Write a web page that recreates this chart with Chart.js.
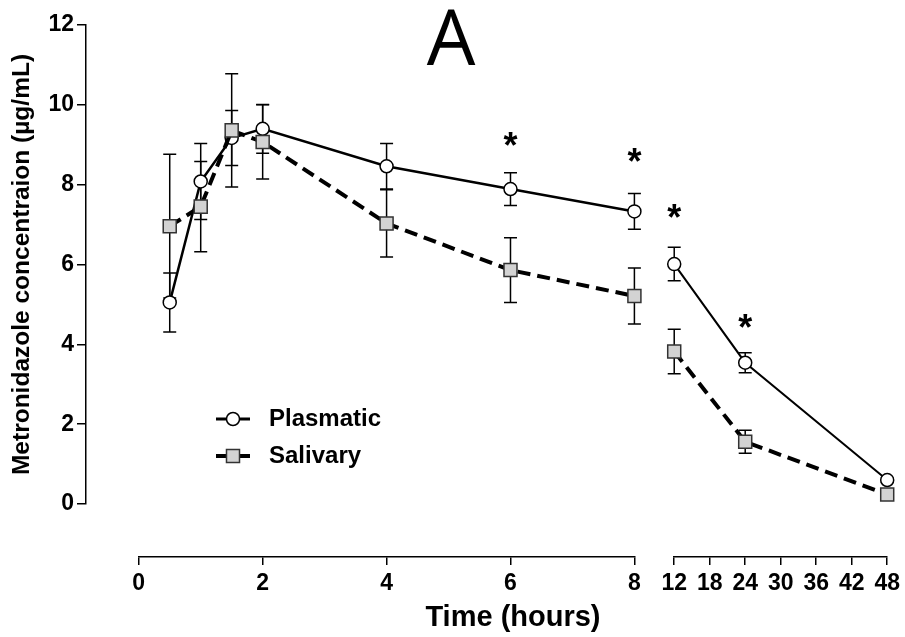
<!DOCTYPE html>
<html>
<head>
<meta charset="utf-8">
<script src="https://cdn.jsdelivr.net/npm/chart.js@4.4.1/dist/chart.umd.min.js"></script>
<style>
  html, body { margin: 0; padding: 0; background: #fff; }
</style>
</head>
<body>
<canvas id="myChart" width="905" height="637"></canvas>
<script>
// times before and after the axis break
const earlyTimes = [0.5, 1, 1.5, 2, 4, 6, 8];
const lateTimes = [12, 24, 48];

// mean and SD, µg/mL
const plasmaEarly = [5.05, 8.08, 9.17, 9.40, 8.46, 7.89, 7.33];
const plasmaEarlySD = [0.74, 0.95, 0.69, 0.61, 0.57, 0.41, 0.45];
const plasmaLate = [6.01, 3.54, 0.60];
const plasmaLateSD = [0.42, 0.25, 0.05];

const salivaEarly = [6.96, 7.45, 9.36, 9.07, 7.03, 5.86, 5.21];
const salivaEarlySD = [1.80, 1.13, 1.42, 0.93, 0.84, 0.81, 0.70];
const salivaLate = [3.82, 1.56, 0.24];
const salivaLateSD = [0.56, 0.29, 0.05];

// significance marks
const starTimes = [6, 8, 12, 24];
const starLevels = [9.08, 8.70, 7.30, 4.54];

const yTicks = [0, 2, 4, 6, 8, 10, 12];
const earlyTicks = [0, 2, 4, 6, 8];
const lateTicks = [12, 18, 24, 30, 36, 42, 48];

const FONT = '"Liberation Sans", Arial, Helvetica, sans-serif';

function pts(xs, ys) {
  return xs.map((x, i) => ({ x: x, y: ys[i] }));
}

const circle = {
  pointStyle: 'circle', pointRadius: 6.5, pointBackgroundColor: '#fff',
  pointBorderColor: '#000', pointBorderWidth: 1.5, borderColor: '#000'
};
const square = {
  pointStyle: 'rect', pointRadius: 9.2, pointBackgroundColor: '#d3d3d3',
  pointBorderColor: '#333', pointBorderWidth: 1.5, borderColor: '#000',
  borderWidth: 4, borderDash: [13, 7]
};

// blank axis used only to space the layout
function spacer(extra) {
  return Object.assign({
    type: 'linear', axis: 'x', position: 'bottom', display: true,
    ticks: { display: false }, grid: { display: false }, border: { display: false }
  }, extra);
}

function tickAxis(extra, ticks) {
  return Object.assign({
    type: 'linear', axis: 'x', position: 'bottom', stack: 'xs', weight: 1,
    afterBuildTicks: s => { s.ticks = ticks.map(v => ({ value: v })); },
    afterFit: s => { s.height = 41; },
    ticks: { color: '#000', padding: 5, maxRotation: 0, autoSkip: false,
      font: { family: FONT, size: 23, weight: 'bold' } },
    grid: { drawOnChartArea: false, tickLength: 8, color: '#000', lineWidth: 1.5 },
    border: { color: '#000', width: 1.5 }
  }, extra);
}

const errorBars = {
  id: 'errorBars',
  beforeDatasetsDraw(chart) {
    const ctx = chart.ctx;
    ctx.save();
    ctx.strokeStyle = '#000';
    ctx.lineWidth = 1.5;
    chart.data.datasets.forEach(ds => {
      if (!ds.sd) return;
      const xs = chart.scales[ds.xAxisID], ys = chart.scales.y;
      ds.data.forEach((p, j) => {
        const x = xs.getPixelForValue(p.x);
        const hi = ys.getPixelForValue(p.y + ds.sd[j]);
        const lo = ys.getPixelForValue(p.y - ds.sd[j]);
        ctx.beginPath();
        ctx.moveTo(x, hi); ctx.lineTo(x, lo);
        ctx.moveTo(x - 6.5, hi); ctx.lineTo(x + 6.5, hi);
        ctx.moveTo(x - 6.5, lo); ctx.lineTo(x + 6.5, lo);
        ctx.stroke();
      });
    });
    ctx.restore();
  }
};

const marks = {
  id: 'marks',
  afterDraw(chart) {
    const ctx = chart.ctx, a = chart.chartArea, ys = chart.scales.y;
    ctx.save();
    ctx.fillStyle = '#000';
    ctx.textAlign = 'center';
    ctx.textBaseline = 'middle';
    ctx.font = 'bold 36px ' + FONT;
    starTimes.forEach((t, i) => {
      const xs = t <= 8 ? chart.scales.x1 : chart.scales.x2;
      ctx.fillText('*', xs.getPixelForValue(t), ys.getPixelForValue(starLevels[i]) + 7);
    });

    // panel letter
    ctx.textBaseline = 'alphabetic';
    ctx.font = '77px "Open Sans", "Noto Sans", sans-serif';
    ctx.fillText('A', 451, a.top + 40);

    // legend
    const rows = [
      { label: 'Plasmatic', ds: chart.data.datasets[0], y: a.bottom - 85, lw: 3 },
      { label: 'Salivary', ds: chart.data.datasets[2], y: a.bottom - 48, lw: 4 }
    ];
    const x0 = a.left + 130, x1 = a.left + 164, xm = (x0 + x1) / 2;
    rows.forEach(r => {
      ctx.strokeStyle = '#000';
      ctx.lineWidth = r.lw;
      ctx.beginPath(); ctx.moveTo(x0, r.y); ctx.lineTo(x1, r.y); ctx.stroke();
      ctx.fillStyle = r.ds.pointBackgroundColor;
      ctx.strokeStyle = r.ds.pointBorderColor;
      ctx.lineWidth = r.ds.pointBorderWidth;
      ctx.beginPath();
      if (r.ds.pointStyle === 'circle') {
        ctx.arc(xm, r.y, r.ds.pointRadius, 0, Math.PI * 2);
      } else {
        const h = r.ds.pointRadius * Math.SQRT1_2;
        ctx.rect(xm - h, r.y - h, 2 * h, 2 * h);
      }
      ctx.fill(); ctx.stroke();
      ctx.fillStyle = '#000';
      ctx.textAlign = 'left';
      ctx.textBaseline = 'middle';
      ctx.font = 'bold 24px ' + FONT;
      ctx.fillText(r.label, a.left + 183, r.y);
    });
    ctx.restore();
  }
};

const ctx = document.getElementById('myChart').getContext('2d');
new Chart(ctx, {
  type: 'line',
  data: {
    datasets: [
      Object.assign({ label: 'Plasmatic', data: pts(earlyTimes, plasmaEarly), sd: plasmaEarlySD,
        xAxisID: 'x1', yAxisID: 'y', borderWidth: 2.5, order: 1 }, circle),
      Object.assign({ label: 'Plasmatic', data: pts(lateTimes, plasmaLate), sd: plasmaLateSD,
        xAxisID: 'x2', yAxisID: 'y', borderWidth: 2, order: 1 }, circle),
      Object.assign({ label: 'Salivary', data: pts(earlyTimes, salivaEarly), sd: salivaEarlySD,
        xAxisID: 'x1', yAxisID: 'y', order: 0 }, square),
      Object.assign({ label: 'Salivary', data: pts(lateTimes, salivaLate), sd: salivaLateSD,
        xAxisID: 'x2', yAxisID: 'y', order: 0 }, square)
    ]
  },
  options: {
    responsive: false,
    animation: false,
    events: [],
    devicePixelRatio: 1,
    clip: false,
    layout: { padding: { left: 0, top: 25, right: 14, bottom: 0 } },
    datasets: { line: { clip: false, tension: 0, fill: false } },
    plugins: { legend: { display: false }, tooltip: { enabled: false } },
    scales: {
      y: {
        type: 'linear', position: 'left', min: 0, max: 12,
        afterBuildTicks: s => { s.ticks = yTicks.map(v => ({ value: v })); },
        afterFit: s => { s.width = 86; },
        ticks: { color: '#000', padding: 3, font: { family: FONT, size: 23, weight: 'bold' } },
        grid: { drawOnChartArea: false, tickLength: 9, color: '#000', lineWidth: 1.5 },
        border: { color: '#000', width: 1.5 },
        title: { display: true, text: 'Metronidazole concentraion (µg/mL)', color: '#000',
          padding: { top: 8, bottom: 0 }, font: { family: FONT, size: 24.5, weight: 'bold' } }
      },
      gapY: spacer({ weight: 0, afterFit: s => { s.height = 53; } }),
      padA: spacer({ stack: 'xs', stackWeight: 53, weight: 1 }),
      x1: tickAxis({ stackWeight: 498, min: 0, max: 8 }, earlyTicks),
      gapX: spacer({ stack: 'xs', stackWeight: 40, weight: 1 }),
      x2: tickAxis({ stackWeight: 214, min: 12, max: 48 }, lateTicks),
      padB: spacer({ stack: 'xt', stackWeight: 53, weight: 2 }),
      xTitle: spacer({
        stack: 'xt', stackWeight: 752, weight: 2,
        afterFit: s => { s.height = 39; },
        title: { display: true, text: 'Time (hours)', color: '#000',
          padding: { top: 0, bottom: 2 }, font: { family: FONT, size: 29, weight: 'bold' } }
      })
    }
  },
  plugins: [errorBars, marks]
});
</script>
</body>
</html>
